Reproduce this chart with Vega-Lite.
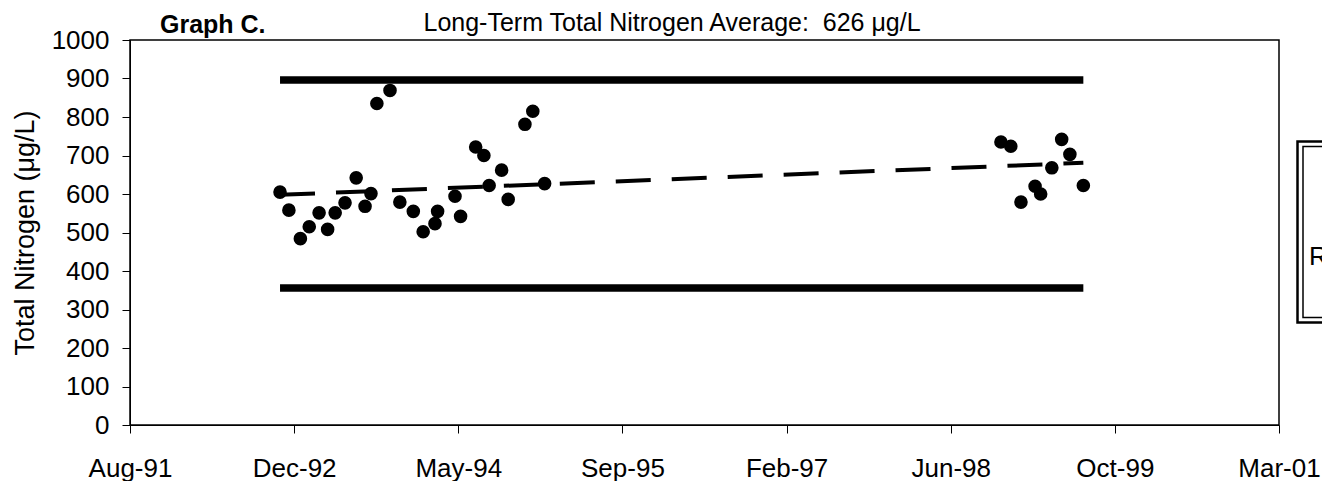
{
  "$schema": "https://vega.github.io/schema/vega-lite/v6.json",
  "width": 1149,
  "height": 385,
  "autosize": {"type": "none"},
  "padding": {"left": 130, "top": 40, "right": 43, "bottom": 56},
  "background": "white",
  "config": {
    "font": "Liberation Sans",
    "view": {"stroke": "black", "strokeWidth": 1.5},
    "axis": {"grid": false, "domainColor": "black", "tickColor": "black", "labelColor": "black", "titleColor": "black", "titleFontWeight": "normal"}
  },
  "title": {"text": "Graph C.", "anchor": "start", "frame": "group", "dx": 30, "dy": 58, "fontSize": 25, "fontWeight": "bold", "color": "black", "baseline": "alphabetic", "offset": 10},
  "datasets": {
    "samples": [
      {"date": "1992-11-12", "tn": 605}, {"date": "1992-12-09", "tn": 558}, {"date": "1993-01-13", "tn": 484},
      {"date": "1993-02-09", "tn": 515}, {"date": "1993-03-11", "tn": 551}, {"date": "1993-04-06", "tn": 508},
      {"date": "1993-04-29", "tn": 551}, {"date": "1993-05-29", "tn": 577}, {"date": "1993-07-02", "tn": 642},
      {"date": "1993-07-29", "tn": 568}, {"date": "1993-08-16", "tn": 601}, {"date": "1993-09-03", "tn": 835},
      {"date": "1993-10-13", "tn": 869}, {"date": "1993-11-12", "tn": 579}, {"date": "1993-12-23", "tn": 555},
      {"date": "1994-01-22", "tn": 502}, {"date": "1994-02-27", "tn": 523}, {"date": "1994-03-07", "tn": 555},
      {"date": "1994-04-29", "tn": 594}, {"date": "1994-05-16", "tn": 542}, {"date": "1994-07-01", "tn": 722},
      {"date": "1994-07-26", "tn": 700}, {"date": "1994-08-11", "tn": 622}, {"date": "1994-09-18", "tn": 662},
      {"date": "1994-10-08", "tn": 586}, {"date": "1994-11-28", "tn": 781}, {"date": "1994-12-22", "tn": 815},
      {"date": "1995-01-27", "tn": 627}, {"date": "1998-11-17", "tn": 735}, {"date": "1998-12-17", "tn": 724},
      {"date": "1999-01-17", "tn": 579}, {"date": "1999-03-01", "tn": 620}, {"date": "1999-03-18", "tn": 600},
      {"date": "1999-04-21", "tn": 668}, {"date": "1999-05-21", "tn": 742}, {"date": "1999-06-15", "tn": 703},
      {"date": "1999-07-26", "tn": 622}
    ],
    "trend": [{"date": "1992-11-12", "tn": 598}, {"date": "1999-07-26", "tn": 681}],
    "limits": [{"date": "1992-11-12", "upper": 896, "lower": 356}, {"date": "1999-07-26", "upper": 896, "lower": 356}]
  },
  "resolve": {"axis": {"x": "independent"}},
  "layer": [
    {
      "data": {"name": "limits"},
      "mark": {"type": "line", "color": "black", "strokeWidth": 7.5},
      "encoding": {
        "x": {"field": "date", "type": "temporal", "scale": {"domain": [{"year": 1991, "month": 8, "date": 13}, {"year": 2001, "month": 3, "date": 13}]}, "axis": null},
        "y": {"field": "upper", "type": "quantitative", "scale": {"domain": [0, 1000], "nice": false}, "title": "Total Nitrogen (μg/L)",
          "axis": {"values": [0, 100, 200, 300, 400, 500, 600, 700, 800, 900, 1000], "format": "d", "labelOverlap": false, "tickSize": 8, "labelPadding": 13, "labelFontSize": 26, "titleFontSize": 27,
            "titleX": -105, "titleY": 192.5, "titleAngle": -90, "titleAlign": "center", "titleBaseline": "middle"}}
      }
    },
    {
      "data": {"name": "limits"},
      "mark": {"type": "line", "color": "black", "strokeWidth": 7.5},
      "encoding": {
        "x": {"field": "date", "type": "temporal", "scale": {"domain": [{"year": 1991, "month": 8, "date": 13}, {"year": 2001, "month": 3, "date": 13}]}, "axis": null},
        "y": {"field": "lower", "type": "quantitative", "scale": {"domain": [0, 1000], "nice": false}, "title": "Total Nitrogen (μg/L)",
          "axis": {"values": [0, 100, 200, 300, 400, 500, 600, 700, 800, 900, 1000], "format": "d", "labelOverlap": false, "tickSize": 8, "labelPadding": 13, "labelFontSize": 26, "titleFontSize": 27,
            "titleX": -105, "titleY": 192.5, "titleAngle": -90, "titleAlign": "center", "titleBaseline": "middle"}}
      }
    },
    {
      "data": {"name": "trend"},
      "mark": {"type": "line", "color": "black", "strokeWidth": 4, "strokeDash": [35, 21]},
      "encoding": {
        "x": {"field": "date", "type": "temporal", "scale": {"domain": [{"year": 1991, "month": 8, "date": 13}, {"year": 2001, "month": 3, "date": 13}]},
          "axis": {"orient": "top", "labels": false, "ticks": false, "domain": false, "grid": false,
            "title": "Long-Term Total Nitrogen Average:\u00a0 626 μg/L", "titleFontSize": 25, "titleFontWeight": "normal",
            "titleX": 293, "titleY": -10, "titleAlign": "left", "titleAnchor": "start", "titleBaseline": "alphabetic", "titleColor": "black"}},
        "y": {"field": "tn", "type": "quantitative", "scale": {"domain": [0, 1000], "nice": false}, "title": "Total Nitrogen (μg/L)",
          "axis": {"values": [0, 100, 200, 300, 400, 500, 600, 700, 800, 900, 1000], "format": "d", "labelOverlap": false, "tickSize": 8, "labelPadding": 13, "labelFontSize": 26, "titleFontSize": 27,
            "titleX": -105, "titleY": 192.5, "titleAngle": -90, "titleAlign": "center", "titleBaseline": "middle"}}
      }
    },
    {
      "data": {"name": "samples"},
      "mark": {"type": "circle", "color": "black", "opacity": 1, "size": 185},
      "encoding": {
        "x": {"field": "date", "type": "temporal", "scale": {"domain": [{"year": 1991, "month": 8, "date": 13}, {"year": 2001, "month": 3, "date": 13}]},
          "axis": {"orient": "bottom", "title": null, "format": "%b-%y", "tickSize": 8, "labelPadding": 22, "labelFontSize": 26, "labelFlush": false, "labelOverlap": false,
            "values": [{"year": 1991, "month": 8, "date": 13}, {"year": 1992, "month": 12, "date": 25}, {"year": 1994, "month": 5, "date": 9}, {"year": 1995, "month": 9, "date": 21}, {"year": 1997, "month": 2, "date": 2}, {"year": 1998, "month": 6, "date": 17}, {"year": 1999, "month": 10, "date": 30}, {"year": 2001, "month": 3, "date": 13}]}},
        "y": {"field": "tn", "type": "quantitative", "scale": {"domain": [0, 1000], "nice": false},
          "title": "Total Nitrogen (μg/L)",
          "axis": {"values": [0, 100, 200, 300, 400, 500, 600, 700, 800, 900, 1000], "format": "d", "labelOverlap": false, "tickSize": 8, "labelPadding": 13, "labelFontSize": 26, "titleFontSize": 27,
            "titleX": -105, "titleY": 192.5, "titleAngle": -90, "titleAlign": "center", "titleBaseline": "middle"}}
      }
    },
    {
      "data": {"values": [{"k": 1}]},
      "mark": {"type": "point", "opacity": 0},
      "encoding": {
        "fill": {"datum": 1, "type": "quantitative", "scale": {"domain": [0, 1], "range": ["white", "white"]},
          "legend": {"type": "gradient", "orient": "none", "legendX": 1167.5, "legendY": 101.5, "direction": "vertical", "gradientLength": 171, "gradientThickness": 40, "padding": 5, "labels": false, "title": null, "strokeColor": "black",
            "encode": {"gradient": {"update": {"opacity": {"value": 0}}}, "legend": {"update": {"strokeWidth": {"value": 2.5}}}}}}
      }
    },
    {
      "data": {"values": [{"k": 2}]},
      "mark": {"type": "point", "opacity": 0},
      "encoding": {
        "stroke": {"datum": 1, "type": "quantitative", "scale": {"domain": [0, 2], "range": ["white", "white"]},
          "legend": {"type": "gradient", "orient": "none", "legendX": 1173, "legendY": 106.5, "direction": "vertical", "gradientLength": 161, "gradientThickness": 1, "padding": 5, "values": [0.69], "labelExpr": "'R² = 0.06'", "labelFontSize": 26, "labelColor": "black", "labelOffset": 0, "labelOverlap": false, "title": null, "strokeColor": "black",
            "encode": {"gradient": {"update": {"opacity": {"value": 0}}}, "legend": {"update": {"strokeWidth": {"value": 1.5}}}}}}
      }
    }
  ]
}
